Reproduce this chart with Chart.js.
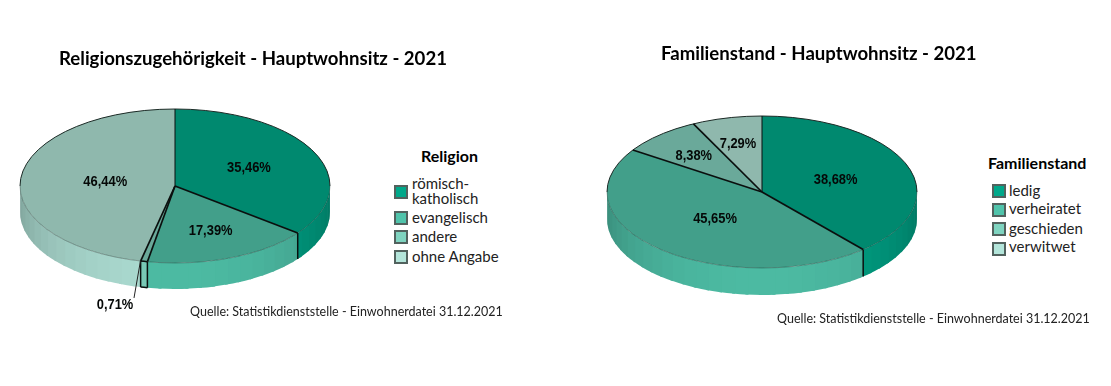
<!DOCTYPE html>
<html lang="de"><head><meta charset="utf-8">
<script src="https://cdn.jsdelivr.net/npm/chart.js@4"></script>
<style>
html,body{margin:0;padding:0;background:#fff;width:1111px;height:386px;overflow:hidden;font-family:Lato,"Open Sans",sans-serif;color:#111}
.t{position:absolute;white-space:nowrap;line-height:1}
.title{font-weight:700;font-size:18.6px;color:#000}
.lt{font-weight:700;font-size:16px;color:#000}
.li{font-size:15px;color:#222}
.src{font-size:12.5px;color:#222}
.sw{position:absolute;width:10px;height:10px;border:2px solid #52625e}
.box{position:absolute;width:320px;height:320px}
</style></head><body>
<div class="box" style="left:15px;top:26px"><canvas id="c1" width="320" height="320"></canvas></div>
<div class="box" style="left:602px;top:32px"><canvas id="c2" width="320" height="320"></canvas></div>
<script>
const religionCategories = ['römisch-katholisch','evangelisch','andere','ohne Angabe'];
const religionValues = [35.46, 17.39, 0.71, 46.44];
const familyCategories = ['ledig','verheiratet','geschieden','verwitwet'];
const familyValues = [38.68, 45.65, 8.38, 7.29];

const topColors = ['#00896f','#429f8a','#6aa99a','#8fb8ad'];
const sideColors = ['#00a88a','#50c4ab','#7fd4c0','#b3e5da'];
const religionLabelPos = [[.477,-.234],[.23,.584],[-.387,1.545],[-.45,-.05]];
const familyLabelPos = [[.475,-.158],[-.303,.355],[-.44,-.478],[-.155,-.63]];

const fmt = v => v.toFixed(2).replace('.',',') + '%';
function shade(hex,f){
  const n=parseInt(hex.slice(1),16);
  return `rgb(${Math.round((n>>16&255)*f)},${Math.round((n>>8&255)*f)},${Math.round((n&255)*f)})`;
}
const pie3d = {
  id:'pie3d',
  beforeDatasetsDraw(chart,_a,o){
    const ctx=chart.ctx, arcs=chart.getDatasetMeta(0).data, step=Math.PI/36;
    const {x,y,outerRadius:r}=arcs[0], ry=r*o.ratio;
    ctx.save();
    arcs.forEach((a,i)=>{
      const s=Math.max(a.startAngle,0), e=Math.min(a.endAngle,Math.PI);
      if(e<=s) return;
      // paint strips from the slice end backwards with an overlap, so no seams show
      const strips=[];
      let t=s;
      while(t<e-1e-6){
        const k=Math.floor(t/step+1e-6), n=Math.min((k+1)*step,e);
        strips.push([t,n,shade(sideColors[i],.7+.25*Math.sin((k+.5)*step))]);
        t=n;
      }
      strips.forEach(([p,n,c],j)=>{
        const end=j<strips.length-1?Math.min(n+.02,e):n;
        ctx.beginPath();
        ctx.ellipse(x,y,r,ry,0,p,end);
        ctx.ellipse(x,y+o.depth,r,ry,0,end,p,true);
        ctx.closePath();
        ctx.fillStyle=c;
        ctx.fill();
      });
    });
    ctx.restore();
    ctx.save();
    ctx.translate(x,y); ctx.scale(1,o.ratio); ctx.translate(-x,-y);
  },
  afterDatasetsDraw(chart,_a,o){
    const ctx=chart.ctx, meta=chart.getDatasetMeta(0), arcs=meta.data;
    ctx.restore();
    const {x,y,outerRadius:r}=arcs[0], ry=r*o.ratio;
    ctx.save();
    ctx.lineWidth=1;
    ctx.strokeStyle='#1c2a26';
    ctx.beginPath(); ctx.ellipse(x,y,r,ry,0,Math.PI,2*Math.PI); ctx.stroke();
    ctx.strokeStyle='rgba(20,40,35,.35)';
    ctx.beginPath(); ctx.ellipse(x,y,r,ry,0,0,Math.PI); ctx.stroke();
    ctx.strokeStyle='#0a0f0e';
    arcs.forEach(a=>{
      const t=a.startAngle, px=x+r*Math.cos(t), py=y+ry*Math.sin(t);
      ctx.lineWidth=Math.abs(Math.cos(t))<1e-6?1:1.7;
      ctx.beginPath(); ctx.moveTo(x,y); ctx.lineTo(px,py); ctx.stroke();
      if(Math.sin(t)>0){
        ctx.lineWidth=1.5;
        ctx.beginPath(); ctx.moveTo(px,py); ctx.lineTo(px,py+o.depth); ctx.stroke();
      }
    });
    arcs.forEach(a=>{
      if(a.endAngle-a.startAngle<.1 && Math.sin(a.startAngle)>0){
        ctx.lineWidth=1.5;
        ctx.beginPath();
        ctx.ellipse(x,y+o.depth,r,ry,0,a.startAngle,a.endAngle);
        ctx.moveTo(x+r*Math.cos(a.startAngle),y+ry*Math.sin(a.startAngle));
        ctx.ellipse(x,y,r,ry,0,a.startAngle,a.endAngle);
        ctx.stroke();
        const p=o.labelPos[arcs.indexOf(a)];
        ctx.lineWidth=1; ctx.strokeStyle='#222';
        ctx.beginPath();
        ctx.moveTo(x+r*Math.cos(a.endAngle),y+ry*Math.sin(a.endAngle)-1);
        ctx.lineTo(x+p[0]*r+19,y+p[1]*ry-7);
        ctx.stroke();
      }
    });
    ctx.fillStyle='#050807';
    ctx.font='bold 14.5px "Liberation Sans",sans-serif';
    ctx.textAlign='center'; ctx.textBaseline='middle';
    chart.data.datasets[0].data.forEach((v,i)=>{
      const p=o.labelPos[i], s=fmt(v);
      ctx.fillText(s,x+p[0]*r,y+p[1]*ry,s.length*7.3);
    });
    ctx.restore();
  }
};
function makePie(id,cats,vals,labelPos,ratio,depth){
  return new Chart(document.getElementById(id),{
    type:'pie',
    data:{labels:cats,datasets:[{data:vals,backgroundColor:topColors,borderWidth:0,radius:155,clip:false}]},
    plugins:[pie3d],
    options:{responsive:false,animation:false,events:[],layout:{padding:0},
      plugins:{legend:{display:false},tooltip:{enabled:false},title:{display:false},
        pie3d:{ratio,depth,labelPos}}}
  });
}
makePie('c1',religionCategories,religionValues,religionLabelPos,77/155,26);
makePie('c2',familyCategories,familyValues,familyLabelPos,76/155,27);

function text(cls,s,x,cy,size){
  const d=document.createElement('div');d.className='t '+cls;d.textContent=s;
  d.style.left=x+'px';d.style.top=(cy-(size/2))+'px';d.style.lineHeight=size+'px';
  document.body.appendChild(d);return d;
}
function swatch(i,x,y){
  const d=document.createElement('div');d.className='sw';
  d.style.left=x+'px';d.style.top=y+'px';d.style.background=sideColors[i];
  document.body.appendChild(d);
}
text('title','Religionszugehörigkeit - Hauptwohnsitz - 2021',59,58,24);
text('title','Familienstand - Hauptwohnsitz - 2021',661,53,24);
text('lt','Religion',421,156,18);
text('lt','Familienstand',988,163,18);
text('src','Quelle: Statistikdienststelle - Einwohnerdatei 31.12.2021',190,312,16);
text('src','Quelle: Statistikdienststelle - Einwohnerdatei 31.12.2021',777,319,16);

const r0=religionCategories[0].split('-');
text('li',r0[0]+'-',412,183,18); text('li',r0[1],412,198,18);
swatch(0,394,185);
[[1,217,211],[2,236,230],[3,256,250]].forEach(([i,cy,sy])=>{
  text('li',religionCategories[i],412,cy,18); swatch(i,394,sy);
});
[[0,190,184],[1,208,203],[2,228,222],[3,246,242]].forEach(([i,cy,sy])=>{
  text('li',familyCategories[i],1009,cy,18); swatch(i,992,sy);
});
</script>
</body></html>
